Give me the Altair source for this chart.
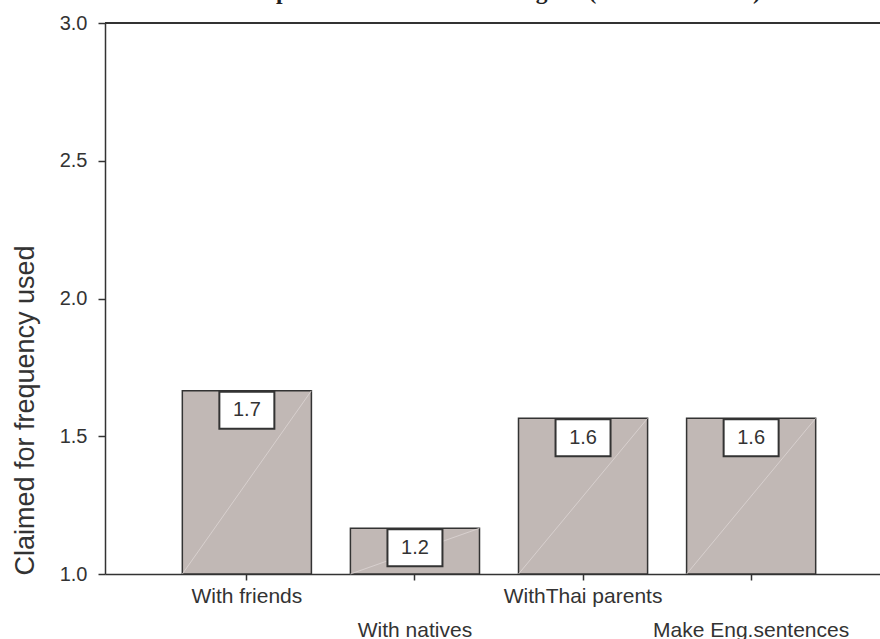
import altair as alt
import pandas as pd

# Speaking-practice strategies and their mean claimed frequency of use
categories = ["With friends", "With natives", "WithThai parents", "Make Eng.sentences"]
means = [1.665, 1.166, 1.565, 1.565]

title_text = "Oral practice with others in English (All the students)"
y_title = "Claimed for frequency used"
y_ticks = [1.0, 1.5, 2.0, 2.5, 3.0]

df = pd.DataFrame({"category": categories, "mean": means})

INK = "#333333"
BAR_FILL = "#c1b8b5"
FONT = "Liberation Sans"

PLOT_W = 775
PLOT_H = 551
HALF_BAND = 64.5

x_enc = alt.X(
    "category:N",
    sort=categories,
    scale=alt.Scale(range=[0, 788], paddingInner=0.232, paddingOuter=0.46),
    axis=alt.Axis(
        title=None,
        labelAngle=0,
        labelFont=FONT,
        labelFontSize=21,
        labelColor=INK,
        labelPadding=5,
        labelBaseline="top",
        labelLineHeight=34,
        labelLimit=400,
        labelOverlap=False,
        labelExpr="round(datum.index * 3) % 2 == 1 ? ['', datum.label] : datum.label",
        tickSize=6,
        tickColor=INK,
        tickWidth=1.5,
        domainColor=INK,
        domainWidth=1.5,
    ),
)

y_scale = alt.Scale(domain=[1.0, 3.0], nice=False, zero=False)

y_enc = alt.Y(
    "mean:Q",
    scale=y_scale,
    axis=alt.Axis(
        values=y_ticks,
        format=".1f",
        grid=False,
        labelFont=FONT,
        labelFontSize=20,
        labelColor=INK,
        labelPadding=11,
        tickSize=7,
        tickColor=INK,
        tickWidth=1.5,
        domainColor=INK,
        domainWidth=1.5,
        title=y_title,
        titleFont=FONT,
        titleFontSize=27,
        titleFontWeight="normal",
        titleColor=INK,
        titleAngle=270,
        titleAlign="center",
        titleBaseline="alphabetic",
        titleX=-72,
        titleY=387,
    ),
)

base = alt.Chart(df)

# frame line along the top of the plot
top_line = base.mark_rule(color=INK, strokeWidth=1.5).encode(y=alt.value(0))

bars = base.mark_bar(fill=BAR_FILL, stroke=INK, strokeWidth=1.5).encode(
    x=x_enc,
    y=y_enc,
    y2=alt.datum(1.0),
)

# faint diagonal highlight: bottom-left corner to top-right corner of each bar
diagonals = base.mark_rule(
    color="#ddd6d4", strokeWidth=0.8, xOffset=HALF_BAND, x2Offset=-HALF_BAND
).encode(
    x=alt.X("category:N", sort=categories),
    x2=alt.X2("category"),
    y="mean:Q",
    y2=alt.datum(1.0),
)

boxes = base.mark_bar(
    width=55, fill="white", stroke=INK, strokeWidth=2, yOffset=1, y2Offset=38
).encode(
    x=alt.X("category:N", sort=categories),
    y="mean:Q",
    y2=alt.Y2("mean"),
)

labels = base.mark_text(
    dy=19.5, fontSize=20, font=FONT, color=INK, baseline="middle", align="center"
).encode(
    x=alt.X("category:N", sort=categories),
    y="mean:Q",
    text=alt.Text("mean:Q", format=".1f"),
)

# chart heading, sitting at the very top edge of the page
title = alt.Chart(pd.DataFrame({"t": [title_text]})).mark_text(
    font="Liberation Serif",
    fontSize=23.5,
    fontWeight="bold",
    color="#222222",
    align="center",
    baseline="alphabetic",
).encode(
    x=alt.value(387),
    y=alt.value(-24),
    text="t:N",
)

chart = (
    alt.layer(top_line, bars, diagonals, boxes, labels, title)
    .properties(
        width=PLOT_W,
        height=PLOT_H,
        autosize=alt.AutoSizeParams(type="none"),
        padding={"left": 105, "top": 23, "right": 0, "bottom": 65},
        background="white",
    )
    .configure_view(strokeWidth=0)
)

chart.save("out.html", embed_options={"renderer": "svg", "actions": False})
